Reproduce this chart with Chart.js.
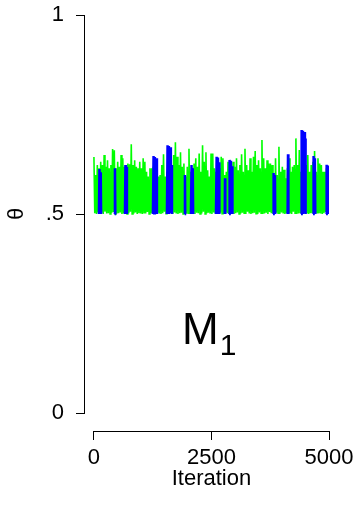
<!DOCTYPE html>
<html>
<head>
<meta charset="utf-8">
<script src="https://cdn.jsdelivr.net/npm/chart.js@4"></script>
<style>
html, body { margin: 0; padding: 0; background: #fff; }
#wrap { width: 360px; height: 509px; }
</style>
</head>
<body>
<div id="wrap"><canvas id="trace"></canvas></div>
<script>
// tick labels
const xTicks = [0, 2500, 5000];
const yTicks = [0, 0.5, 1];
const yTickLabels = ['0', '.5', '1'];

// green chain: upper envelope of the trace, read left to right
const greenPeaks = [
    0.643, 0.598, 0.623, 0.615, 0.631, 0.623, 0.648, 0.619, 0.635, 0.615, 0.623, 0.663, 0.660, 0.615,
    0.631, 0.619, 0.648, 0.640, 0.619, 0.623, 0.627, 0.625, 0.675, 0.623, 0.635, 0.619, 0.615, 0.631,
    0.615, 0.640, 0.631, 0.606, 0.594, 0.615,
    0.615, 0.619, 0.615, 0.619, 0.594, 0.598, 0.623, 0.650, 0.594, 0.606, 0.631, 0.627, 0.615, 0.648,
    0.680, 0.644, 0.623, 0.655, 0.619, 0.627, 0.594, 0.619, 0.664, 0.606, 0.615, 0.627, 0.640, 0.619,
    0.652, 0.606, 0.673, 0.631, 0.655, 0.610, 0.594, 0.652,
    0.652, 0.615, 0.606, 0.623, 0.615, 0.644, 0.640, 0.598, 0.606, 0.631, 0.619, 0.615, 0.631, 0.619,
    0.640, 0.610, 0.623, 0.650, 0.606, 0.664, 0.623, 0.610, 0.640, 0.606, 0.644, 0.658, 0.623, 0.635,
    0.615, 0.686, 0.640, 0.615, 0.635, 0.627,
    0.627, 0.623, 0.573, 0.640, 0.598, 0.669, 0.606, 0.619, 0.611, 0.590, 0.615, 0.640, 0.606, 0.619,
    0.623, 0.690, 0.623, 0.661, 0.606, 0.627, 0.648, 0.623, 0.648, 0.606, 0.623, 0.631, 0.658, 0.606,
    0.640, 0.627, 0.623, 0.606, 0.606, 0.615, 0.611
];
// green chain: lower values between the peaks
const greenTroughs = [
    0.502, 0.500, 0.504, 0.501, 0.503, 0.500, 0.506, 0.501, 0.502, 0.500, 0.503, 0.505, 0.500, 0.501,
    0.502, 0.504, 0.500, 0.501, 0.503, 0.500, 0.502, 0.506, 0.500, 0.501, 0.504, 0.500, 0.502, 0.501,
    0.500, 0.503, 0.501, 0.505, 0.500, 0.502, 0.501, 0.504, 0.500, 0.503, 0.501, 0.500, 0.502, 0.506,
    0.501, 0.500, 0.503, 0.502, 0.500, 0.504, 0.501, 0.500, 0.502, 0.503, 0.500, 0.505, 0.501, 0.502,
    0.500, 0.501, 0.504, 0.500, 0.503, 0.502, 0.500, 0.501, 0.506, 0.500, 0.502, 0.503, 0.501, 0.500,
    0.504, 0.501, 0.502, 0.500, 0.503, 0.501, 0.500, 0.505, 0.502, 0.500, 0.501, 0.503, 0.500, 0.502,
    0.504, 0.500, 0.501, 0.503, 0.502, 0.500, 0.506, 0.501, 0.500, 0.502, 0.503, 0.501, 0.500, 0.504,
    0.502, 0.500, 0.501, 0.503, 0.500, 0.505, 0.502, 0.501, 0.500, 0.503, 0.502, 0.500, 0.504, 0.501,
    0.500, 0.502, 0.503, 0.501, 0.500, 0.506, 0.502, 0.500, 0.501, 0.504, 0.500, 0.502, 0.503, 0.501,
    0.500, 0.502, 0.504, 0.501, 0.500, 0.503, 0.502, 0.501, 0.500, 0.502, 0.505, 0.500, 0.501, 0.503
];

// blue chain: its excursions above .5 (null = break in the line)
const blueIter = [
    106, 118, 132, 145, 152, 152,
    440, 447, 455, 455,
    660, 670, 682, 693, 702, 702,
    1255, 1268, 1282, 1296, 1310, 1324, 1340, 1340,
    1553, 1566, 1580, 1594, 1608, 1622, 1636, 1648, 1660, 1660,
    1930, 1936, 1942, 1942,
    2064, 2076, 2090, 2102, 2110, 2110,
    2596, 2610, 2624, 2638, 2652, 2662, 2668, 2668,
    2782, 2788, 2794, 2794,
    2873, 2886, 2900, 2914, 2928, 2940, 2946, 2946,
    3809, 3822, 3836, 3850, 3856, 3856,
    4120, 4128, 4136, 4136,
    4405, 4418, 4432, 4446, 4460, 4474, 4488, 4496, 4502, 4502,
    4660, 4672, 4686, 4700, 4708, 4708,
    4937, 4950, 4964, 4978, 4992, 5000
];
const blueTheta = [
    0.500, 0.613, 0.505, 0.605, 0.500, null,
    0.500, 0.615, 0.500, null,
    0.500, 0.623, 0.503, 0.618, 0.500, null,
    0.500, 0.646, 0.502, 0.643, 0.504, 0.640, 0.500, null,
    0.500, 0.673, 0.503, 0.671, 0.505, 0.668, 0.502, 0.623, 0.500, null,
    0.500, 0.598, 0.500, null,
    0.500, 0.623, 0.503, 0.615, 0.500, null,
    0.500, 0.644, 0.503, 0.642, 0.504, 0.630, 0.500, null,
    0.500, 0.590, 0.500, null,
    0.500, 0.636, 0.503, 0.634, 0.505, 0.620, 0.500, null,
    0.500, 0.603, 0.503, 0.598, 0.500, null,
    0.500, 0.650, 0.500, null,
    0.500, 0.711, 0.503, 0.709, 0.504, 0.706, 0.502, 0.690, 0.500, null,
    0.500, 0.646, 0.503, 0.640, 0.500, null,
    0.500, 0.624, 0.503, 0.622, 0.504, 0.620
];

const fontFamily = '"Liberation Sans", Arial, sans-serif';

// build the point lists
const step = 5000 / (greenPeaks.length * 2 - 1);
const greenPoints = [];
greenPeaks.forEach((p, i) => {
    greenPoints.push({x: 2 * i * step, y: p});
    greenPoints.push({x: (2 * i + 1) * step, y: greenTroughs[i]});
});
const bluePoints = blueIter.map((x, i) => ({x: x, y: blueTheta[i]}));

// fixed axis boxes so the plot area lands where the original has it
function fixBox(size) {
    return (s) => {
        if (s.isHorizontal()) s.height = size; else s.width = size;
        s.paddingTop = 0;
        s.paddingBottom = 0;
        s.paddingLeft = 0;
        s.paddingRight = 0;
    };
}

// R-style detached axis lines and free text
const decorPlugin = {
    id: 'decor',
    afterDraw(chart) {
        const ctx = chart.ctx;
        const xs = chart.scales.x;
        const ys = chart.scales.y;
        const area = chart.chartArea;
        ctx.save();
        ctx.strokeStyle = '#000';
        ctx.lineWidth = 1;
        const ax = Math.round(area.left) - 0.5;
        const ay = Math.round(area.bottom) + 0.5;
        ctx.beginPath();
        ctx.moveTo(ax, ys.getPixelForValue(yTicks[0]));
        ctx.lineTo(ax, ys.getPixelForValue(yTicks[yTicks.length - 1]));
        ctx.moveTo(xs.getPixelForValue(xTicks[0]), ay);
        ctx.lineTo(xs.getPixelForValue(xTicks[xTicks.length - 1]), ay);
        ctx.stroke();

        ctx.fillStyle = '#000';
        ctx.textAlign = 'center';
        ctx.textBaseline = 'alphabetic';
        ctx.font = '22px ' + fontFamily;
        ctx.fillText('Iteration', xs.getPixelForValue(2500), 485);

        ctx.save();
        ctx.translate(23, ys.getPixelForValue(0.5));
        ctx.rotate(-Math.PI / 2);
        ctx.fillText('θ', 0, 0);
        ctx.restore();

        ctx.textAlign = 'left';
        ctx.font = '44px ' + fontFamily;
        ctx.fillText('M', 182, 344);
        const mw = ctx.measureText('M').width;
        ctx.font = '30px ' + fontFamily;
        ctx.fillText('1', 182 + mw + 1, 355);
        ctx.restore();
    }
};

const traceChart = new Chart(document.getElementById('trace'), {
    type: 'line',
    data: {
        datasets: [{
            data: bluePoints,
            borderColor: '#0000ff',
            borderWidth: 2.5,
            pointRadius: 0,
            spanGaps: false,
            tension: 0
        }, {
            data: greenPoints,
            borderColor: '#00ff00',
            borderWidth: 1.6,
            pointRadius: 0,
            tension: 0
        }]
    },
    options: {
        responsive: true,
        maintainAspectRatio: false,
        animation: false,
        layout: {
            padding: {top: 15, right: 31, left: 0, bottom: 0}
        },
        plugins: {
            legend: {display: false},
            tooltip: {enabled: false}
        },
        scales: {
            x: {
                type: 'linear',
                min: -190,
                max: 5000,
                afterBuildTicks: (s) => { s.ticks = xTicks.map(v => ({value: v})); },
                afterFit: fixBox(78),
                border: {display: false},
                grid: {drawOnChartArea: false, drawTicks: true, tickLength: 9, color: '#000'},
                ticks: {
                    color: '#000',
                    font: {family: fontFamily, size: 22},
                    padding: 5,
                    maxRotation: 0,
                    autoSkip: false,
                    callback: (v) => String(v)
                }
            },
            y: {
                type: 'linear',
                min: -0.0452,
                max: 1,
                afterBuildTicks: (s) => { s.ticks = yTicks.map(v => ({value: v})); },
                afterFit: fixBox(85),
                border: {display: false},
                grid: {drawOnChartArea: false, drawTicks: true, tickLength: 9, color: '#000'},
                ticks: {
                    color: '#000',
                    font: {family: fontFamily, size: 22},
                    padding: 12,
                    autoSkip: false,
                    callback: (v) => yTickLabels[yTicks.indexOf(v)]
                }
            }
        }
    },
    plugins: [decorPlugin]
});
</script>
</body>
</html>
